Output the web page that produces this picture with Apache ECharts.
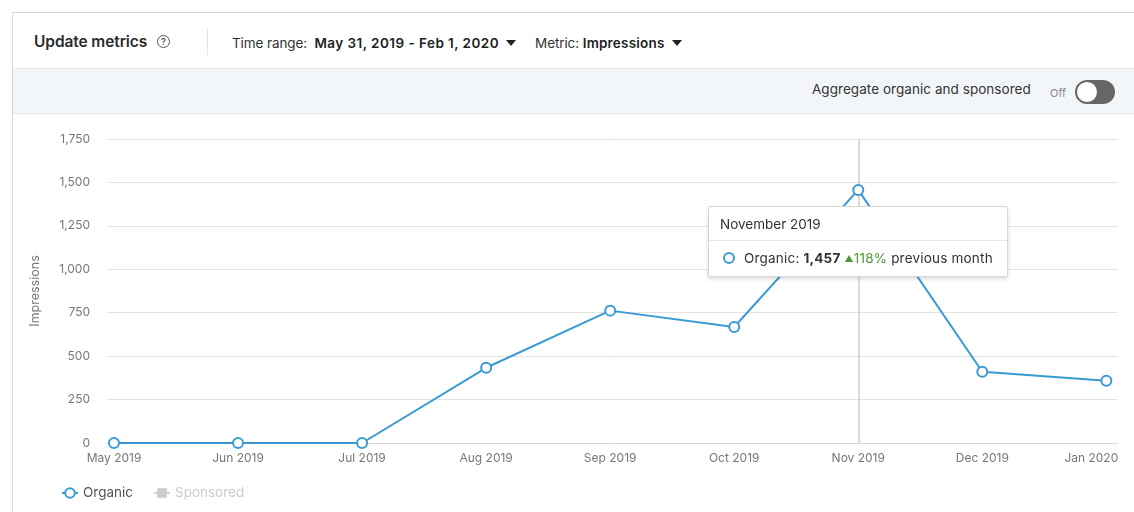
<!DOCTYPE html>
<html><head><meta charset="utf-8">
<script src="https://cdn.jsdelivr.net/npm/echarts@6/dist/echarts.min.js"></script>
<style>
html,body{margin:0;padding:0;background:#fff;width:1134px;height:512px;overflow:hidden;font-family:"Inter","Liberation Sans",sans-serif;}
#card{position:absolute;left:12px;top:12px;width:1122px;height:500px;border-left:1px solid #d9d9d9;border-top:1px solid #d9d9d9;background:#fff;overflow:hidden;}
#hdr{position:absolute;left:0;top:0;width:1122px;height:55px;}
#title{position:absolute;left:21px;top:19px;font-size:15.5px;font-weight:600;color:#2b2b2b;letter-spacing:-0.1px;}
#help{position:absolute;left:144px;top:22px;width:11px;height:11px;border:1.3px solid #555;border-radius:50%;font-size:9px;line-height:11px;text-align:center;color:#555;font-weight:600;}
#div{position:absolute;left:194px;top:16px;width:1px;height:26px;background:#e3e3e3;}
#tr{position:absolute;left:219px;top:22px;font-size:13.5px;color:#333;white-space:nowrap;letter-spacing:-0.1px;}
#tr b{font-weight:600;color:#222;letter-spacing:0.45px;}
#tr b.m{letter-spacing:0.2px;}
#met{margin-left:19px;}
.tri{display:inline-block;width:0;height:0;border-left:5.5px solid transparent;border-right:5.5px solid transparent;border-top:6.5px solid #222;vertical-align:2px;margin-left:7px;}
#band{position:absolute;left:0;top:55px;width:1122px;height:44px;background:#f3f6f8;border-top:1px solid #e4e7ea;border-bottom:1px solid #e4e7ea;}
#agg{position:absolute;left:799px;top:12px;font-size:13.5px;color:#333;letter-spacing:0.05px;white-space:nowrap;}
#off{position:absolute;left:1037px;top:17px;font-size:11px;color:#888;}
#tog{position:absolute;left:1062px;top:11px;width:40px;height:24px;border-radius:12px;background:#666;}
#knob{position:absolute;left:1px;top:1px;width:20px;height:20px;border-radius:50%;background:#fff;border:1px solid #666;}
#chart{position:absolute;left:1px;top:101px;width:1120px;height:399px;}
</style></head>
<body>
<div id="card">
  <div id="hdr">
    <div id="title">Update metrics</div>
    <div id="help">?</div>
    <div id="div"></div>
    <div id="tr">Time range:&nbsp; <b>May 31, 2019 - Feb 1, 2020</b><span class="tri"></span><span id="met">Metric: <b class="m">Impressions</b><span class="tri"></span></span></div>
  </div>
  <div id="band">
    <div id="agg">Aggregate organic and sponsored</div>
    <div id="off">Off</div>
    <div id="tog"><div id="knob"></div></div>
  </div>
  <div id="chart"></div>
</div>
<script>
const categories = ['May 2019','Jun 2019','Jul 2019','Aug 2019','Sep 2019','Oct 2019','Nov 2019','Dec 2019','Jan 2020'];
const fullMonthNames = ['May 2019','June 2019','July 2019','August 2019','September 2019','October 2019','November 2019','December 2019','January 2020'];
const organic = [0, 0, 0, 433, 762, 668, 1457, 410, 358];
const sponsored = [];
const yTicks = [0, 250, 500, 750, 1000, 1250, 1500, 1750];
const highlightIndex = 6;

const blue = '#3a9ad2';
const chart = echarts.init(document.getElementById('chart'), null, {renderer:'canvas'});
const idx = categories.map((c,i)=>i);
const fmt = n => n.toLocaleString('en-US');

function tipHtml(i){
  const v = organic[i], p = organic[i-1];
  const pct = Math.round((v/p - 1)*100);
  return '<div style="font-family:Inter,sans-serif;color:#333;width:298px;">'+
    '<div style="padding:8px 12px 7px 11px;font-size:13.5px;line-height:18px;border-bottom:1px solid #e6e6e6;">'+fullMonthNames[i]+'</div>'+
    '<div style="padding:8px 12px 8px 14px;font-size:13.5px;line-height:18px;white-space:nowrap;letter-spacing:0.2px;">'+
    '<span style="display:inline-block;width:8px;height:8px;border:2px solid '+blue+';border-radius:50%;vertical-align:-1px;margin-right:9px;"></span>'+
    'Organic: <b>'+fmt(v)+'</b> <span style="color:#4a9a36;"><span style="font-size:9px;vertical-align:1px;">&#9650;</span>'+pct+'%</span> previous month</div></div>';
}

chart.setOption({
  animation:false,
  textStyle:{fontFamily:'Inter, Liberation Sans, sans-serif'},
  grid:{left:93, right:16, top:25, bottom:70, containLabel:false},
  legend:{
    left:42, bottom:8, itemWidth:16, itemHeight:12, itemGap:20,
    textStyle:{fontSize:13.5, color:'#555'}, inactiveColor:'#ccc',
    data:['Organic','Sponsored'],
    selected:{'Organic':true,'Sponsored':false}
  },
  tooltip:{
    trigger:'item', alwaysShowContent:true, triggerOn:'none', confine:false,
    position:[694, 92], padding:0, borderColor:'#d6d6d6', borderWidth:1,
    backgroundColor:'#fff', extraCssText:'border-radius:2px;box-shadow:0 2px 4px rgba(0,0,0,0.15);',
    formatter: p => tipHtml(p.dataIndex)
  },
  xAxis:{
    type:'value', min:-0.0564, max:8.094,
    axisLine:{show:true, lineStyle:{color:'#d9d9d9'}},
    axisTick:{show:false},
    splitLine:{show:false},
    axisLabel:{customValues:idx, color:'#777', fontSize:12, margin:9,
      formatter:v=>{const i=Math.round(v); const t=categories[i]||''; return i===categories.length-1 ? '{last|'+t+'}' : t;},
      rich:{last:{color:'#777', fontSize:12, padding:[0,30,0,0]}}
    }
  },
  yAxis:{
    type:'value', min:yTicks[0], max:yTicks[yTicks.length-1], interval:250,
    name:'Impressions', nameLocation:'middle', nameGap:65, nameRotate:90,
    nameTextStyle:{color:'#777', fontSize:12.5},
    axisLine:{show:false}, axisTick:{show:false},
    axisLabel:{color:'#777', fontSize:12, margin:17, formatter:v=>fmt(v)},
    splitLine:{lineStyle:{color:'#e3e3e3'}}
  },
  series:[
    {
      name:'Organic', type:'line', data:organic.map((v,i)=>[i,v]),
      symbol:'emptyCircle', symbolSize:10, showAllSymbol:true,
      lineStyle:{color:blue, width:2}, itemStyle:{color:blue, borderWidth:2},
      emphasis:{disabled:true},
      markLine:{silent:true, symbol:'none', label:{show:false}, lineStyle:{color:'#cfcfcf', type:'solid', width:1.5},
        data:[{xAxis:highlightIndex}], z:1},
      z:3
    },
    {
      name:'Sponsored', type:'line', data:sponsored, symbol:'rect', symbolSize:9,
      lineStyle:{color:'#bbb'}, itemStyle:{color:'#bbb'}
    }
  ]
});
chart.dispatchAction({type:'showTip', seriesIndex:0, dataIndex:highlightIndex});
</script>
</body></html>
